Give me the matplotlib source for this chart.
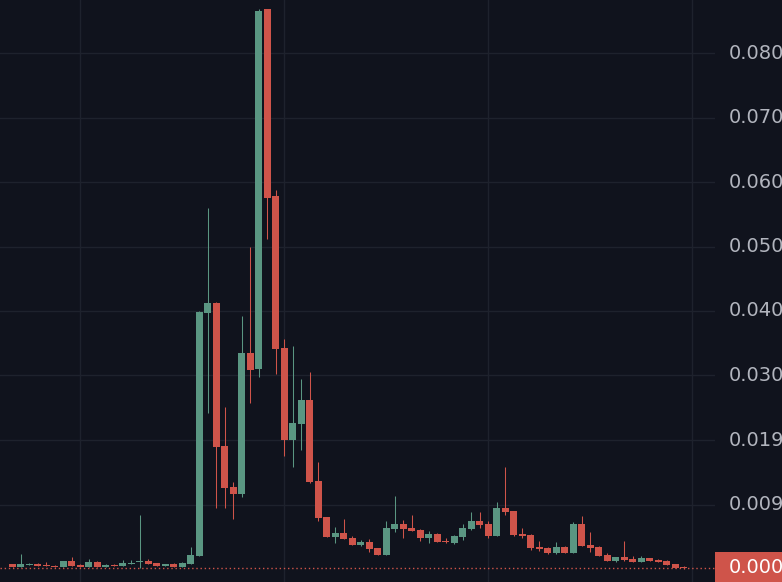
import numpy as np
import matplotlib
matplotlib.use("Agg")
import matplotlib.pyplot as plt
from matplotlib.patches import Rectangle
from matplotlib.transforms import blended_transform_factory

# ---- data ----
open_ = [0.00070, 0.00023, 0.00059, 0.00070, 0.00054, 0.00043, 0.00023, 0.00116, 0.00054, 0.00023,
         0.00101, 0.00023, 0.00054, 0.00039, 0.00070, 0.00101, 0.00116, 0.00085, 0.00039, 0.00070,
         0.00023, 0.00070, 0.00194, 0.03967, 0.04123, 0.01902, 0.01266, 0.01157, 0.03346, 0.03098,
         0.08688, 0.05784, 0.03424, 0.01995, 0.02244, 0.02616, 0.01359, 0.00800, 0.00489, 0.00551,
         0.00474, 0.00365, 0.00411, 0.00318, 0.00210, 0.00613, 0.00691, 0.00629, 0.00598, 0.00474,
         0.00536, 0.00427, 0.00396, 0.00489, 0.00613, 0.00738, 0.00691, 0.00505, 0.00939, 0.00893,
         0.00536, 0.00520, 0.00334, 0.00318, 0.00241, 0.00334, 0.00241, 0.00691, 0.00365, 0.00334,
         0.00210, 0.00116, 0.00179, 0.00148, 0.00101, 0.00163, 0.00132, 0.00116, 0.00070, 0.00023]
high = [0.00070, 0.00225, 0.00085, 0.00085, 0.00101, 0.00054, 0.00116, 0.00179, 0.00070, 0.00148,
        0.00116, 0.00070, 0.00070, 0.00132, 0.00132, 0.00831, 0.00148, 0.00085, 0.00070, 0.00085,
        0.00101, 0.00334, 0.03998, 0.05598, 0.04138, 0.02508, 0.01343, 0.03921, 0.04992, 0.08688,
        0.08688, 0.05877, 0.03564, 0.03455, 0.02943, 0.03051, 0.01654, 0.00800, 0.00644, 0.00769,
        0.00505, 0.00443, 0.00458, 0.00318, 0.00738, 0.01126, 0.00753, 0.00831, 0.00613, 0.00582,
        0.00551, 0.00474, 0.00520, 0.00691, 0.00877, 0.00877, 0.00738, 0.01033, 0.01576, 0.00893,
        0.00629, 0.00536, 0.00427, 0.00334, 0.00411, 0.00349, 0.00722, 0.00815, 0.00567, 0.00349,
        0.00241, 0.00179, 0.00427, 0.00194, 0.00194, 0.00163, 0.00148, 0.00132, 0.00070, 0.00039]
low = [0.00023, 0.00023, 0.00059, 0.00039, 0.00039, 0.00028, 0.00023, 0.00039, 0.00023, 0.00023,
       0.00023, 0.00023, 0.00039, 0.00039, 0.00070, 0.00008, 0.00070, 0.00039, 0.00039, 0.00023,
       0.00023, 0.00070, 0.00194, 0.02415, 0.00939, 0.00939, 0.00769, 0.01110, 0.02570, 0.02974,
       0.05116, 0.03020, 0.01747, 0.01576, 0.01840, 0.01328, 0.00738, 0.00489, 0.00396, 0.00458,
       0.00365, 0.00349, 0.00256, 0.00210, 0.00210, 0.00567, 0.00474, 0.00582, 0.00427, 0.00396,
       0.00411, 0.00396, 0.00380, 0.00443, 0.00598, 0.00629, 0.00474, 0.00505, 0.00831, 0.00505,
       0.00474, 0.00287, 0.00272, 0.00225, 0.00225, 0.00241, 0.00241, 0.00349, 0.00256, 0.00194,
       0.00116, 0.00101, 0.00116, 0.00101, 0.00101, 0.00116, 0.00101, 0.00054, 0.00008, 0.00000]
close = [0.00023, 0.00070, 0.00075, 0.00039, 0.00039, 0.00028, 0.00116, 0.00039, 0.00023, 0.00101,
         0.00023, 0.00054, 0.00039, 0.00085, 0.00085, 0.00116, 0.00070, 0.00039, 0.00070, 0.00023,
         0.00085, 0.00210, 0.03983, 0.04123, 0.01887, 0.01250, 0.01157, 0.03346, 0.03082, 0.08657,
         0.05753, 0.03408, 0.01995, 0.02259, 0.02616, 0.01343, 0.00784, 0.00489, 0.00551, 0.00458,
         0.00365, 0.00411, 0.00303, 0.00210, 0.00629, 0.00691, 0.00613, 0.00582, 0.00474, 0.00536,
         0.00411, 0.00411, 0.00505, 0.00629, 0.00738, 0.00675, 0.00505, 0.00939, 0.00877, 0.00520,
         0.00505, 0.00318, 0.00303, 0.00241, 0.00334, 0.00241, 0.00691, 0.00349, 0.00318, 0.00194,
         0.00116, 0.00179, 0.00132, 0.00101, 0.00163, 0.00116, 0.00101, 0.00054, 0.00008, 0.00008]

tick_values = [0.0800, 0.0700, 0.0600, 0.0500, 0.0400, 0.0300, 0.0199, 0.0099]
tick_labels = ["0.0800", "0.0700", "0.0600", "0.0500", "0.0400", "0.0300", "0.0199", "0.0099"]
last_label = "0.0001"
time_grid = [8, 32, 56, 80]

# ---- style ----
BG = "#10131d"
GRID = "#1e222d"
UP = "#5a9682"
DOWN = "#cf544a"
TEXT = "#b2b5be"

W, H = 782, 582
fig = plt.figure(figsize=(W / 100, H / 100), dpi=100, facecolor=BG)
plot_w = 715
ax = fig.add_axes([0, 0, plot_w / W, 1])
ax.set_facecolor(BG)
for s in ax.spines.values():
    s.set_visible(False)
ax.set_xticks([])
ax.set_yticks([])

o = np.array(open_); h = np.array(high); l = np.array(low); c = np.array(close)
x = np.arange(len(o))
px_per_bar = 8.494
px_per_unit = 6440.0
x0_px = 12.5
zero_px = 568.5
ax.set_xlim(-x0_px / px_per_bar, (plot_w - x0_px) / px_per_bar)
ax.set_ylim(-(H - zero_px) / px_per_unit, zero_px / px_per_unit)

# grid
for v in tick_values:
    ax.axhline(v, color=GRID, lw=1, zorder=0)
for t in time_grid:
    ax.axvline(t, color=GRID, lw=1, zorder=0)

up = c >= o
colors = np.where(up, UP, DOWN)
min_h = 1.0 / px_per_unit
body_bot = np.minimum(o, c)
body_h = np.maximum(np.abs(c - o), min_h)

ax.vlines(x, l, h, colors=colors, lw=0.75, zorder=2)
ax.bar(x, body_h, bottom=body_bot, width=7 / px_per_bar, color=colors, lw=0, zorder=3)

# last price dotted line
ax.axhline(c[-1], color=DOWN, lw=1, linestyle=(0, (1, 2)), zorder=1)

# price scale labels
tr = blended_transform_factory(fig.transFigure, ax.transData)
for v, s in zip(tick_values, tick_labels):
    fig.text(729 / W, v, s, transform=tr, color=TEXT, fontsize=14,
             va="center", ha="left", family="DejaVu Sans")

# last price box
box_h = 31 / px_per_unit
fig.patches.append(Rectangle((plot_w / W, c[-1] - box_h / 2), 1 - plot_w / W, box_h,
                             transform=tr, facecolor=DOWN, edgecolor="none", zorder=5))
fig.text(729 / W, c[-1], last_label, transform=tr, color="white", fontsize=14,
         va="center", ha="left", family="DejaVu Sans", zorder=6)

fig.savefig("out.png", dpi=100, facecolor=BG)
